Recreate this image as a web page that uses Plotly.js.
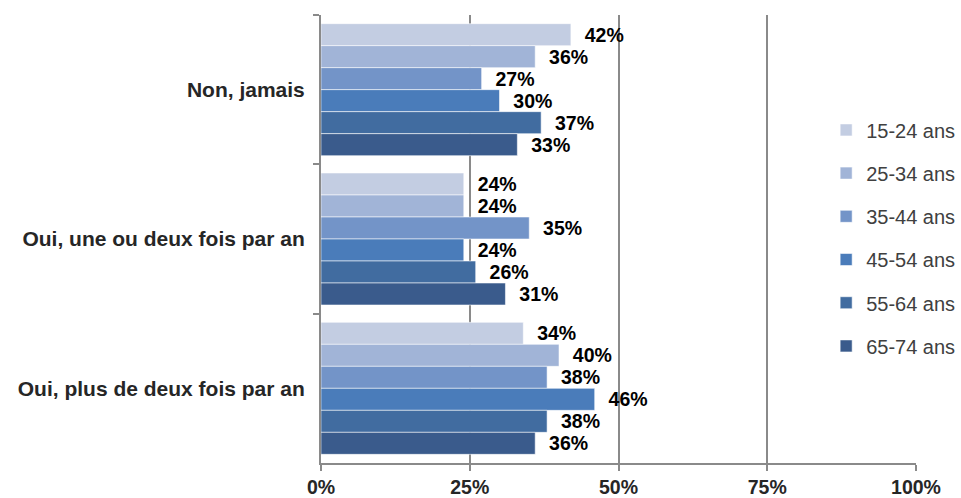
<!DOCTYPE html>
<html>
<head>
<meta charset="utf-8">
<script src="https://cdn.plot.ly/plotly-3.0.1.min.js"></script>
<style>html,body{margin:0;padding:0;background:#fff;}#chart{width:961px;height:498px;}</style>
</head>
<body>
<div id="chart"></div>
<script>
const categories = ["Non, jamais", "Oui, une ou deux fois par an", "Oui, plus de deux fois par an"];
const seriesNames = ["15-24 ans", "25-34 ans", "35-44 ans", "45-54 ans", "55-64 ans", "65-74 ans"];
const s15_24 = [42, 24, 34];
const s25_34 = [36, 24, 40];
const s35_44 = [27, 35, 38];
const s45_54 = [30, 24, 46];
const s55_64 = [37, 26, 38];
const s65_74 = [33, 31, 36];
const seriesValues = [s15_24, s25_34, s35_44, s45_54, s55_64, s65_74];
const colors = ["#C3CDE2", "#A1B4D7", "#7394C8", "#4A7CBA", "#416CA0", "#3A5B8C"];
const xTicks = [0, 25, 50, 75, 100];
const xTickLabels = ["0%", "25%", "50%", "75%", "100%"];

const FONT = "Liberation Sans, Arial, sans-serif";
const NB = "\u00a0\u00a0";

const traces = seriesValues.map((vals, i) => ({
  type: "bar",
  orientation: "h",
  name: seriesNames[i],
  legendgroup: "g" + i,
  y: categories,
  x: vals,
  marker: { color: colors[i], line: { color: "rgba(255,255,255,0.55)", width: 1 } },
  text: vals.map(v => NB + v + "%"),
  texttemplate: "%{text}",
  textposition: "outside",
  constraintext: "none",
  cliponaxis: false,
  textfont: { family: FONT, size: 19.5, color: "#000", weight: "bold" },
  hoverinfo: "skip"
}));

const layout = {
  width: 961, height: 498,
  margin: { l: 321, r: 45, t: 15, b: 35, autoexpand: false },
  paper_bgcolor: "#fff", plot_bgcolor: "#fff",
  barmode: "group",
  bargap: 0.116,
  bargroupgap: 0,
  font: { family: FONT },
  xaxis: {
    range: [0, 100],
    tickvals: xTicks,
    ticktext: xTickLabels,
    showgrid: true,
    gridcolor: "#8A8A8A",
    gridwidth: 2,
    zeroline: false,
    showline: true,
    linecolor: "#8A8A8A",
    linewidth: 2,
    ticks: "outside",
    ticklen: 6,
    tickwidth: 2,
    tickcolor: "#8A8A8A",
    tickfont: { family: FONT, size: 19.5, color: "#262626", weight: "bold" },
    fixedrange: true
  },
  yaxis: {
    type: "category",
    autorange: "reversed",
    showline: true,
    linecolor: "#8A8A8A",
    linewidth: 2,
    ticks: "outside",
    tickson: "boundaries",
    ticklen: 6,
    tickwidth: 2,
    tickcolor: "#8A8A8A",
    ticklabelstandoff: 10,
    tickfont: { family: FONT, size: 21, color: "#262626", weight: "bold" },
    showgrid: false,
    fixedrange: true
  },
  showlegend: true,
  legend: {
    x: 0.849, xanchor: "left",
    y: 0.787, yanchor: "top",
    bgcolor: "rgba(255,255,255,0)",
    font: { family: FONT, size: 20, color: "#404040" },
    tracegroupgap: 14.2,
    traceorder: "grouped"
  }
};

Plotly.newPlot("chart", traces, layout, { displayModeBar: false, staticPlot: true });
</script>
</body>
</html>
